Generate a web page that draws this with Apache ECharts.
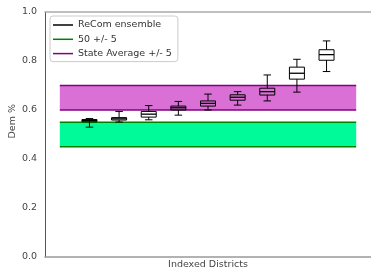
<!DOCTYPE html>
<html>
<head>
<meta charset="utf-8">
<script src="https://cdn.jsdelivr.net/npm/echarts@6/dist/echarts.min.js"></script>
<style>
  html, body { margin: 0; padding: 0; background: #fff; }
  #chart { width: 371px; height: 275px; }
</style>
</head>
<body>
<div id="chart"></div>
<script>
// box positions (indexed districts) and five-number summaries
var positions = [1, 2, 3, 4, 5, 6, 7, 8, 9];
var lows    = [0.530, 0.551, 0.560, 0.579, 0.600, 0.620, 0.637, 0.673, 0.757];
var q1s     = [0.552, 0.559, 0.571, 0.600, 0.616, 0.640, 0.661, 0.726, 0.803];
var medians = [0.557, 0.564, 0.583, 0.609, 0.627, 0.652, 0.675, 0.750, 0.826];
var q3s     = [0.561, 0.569, 0.594, 0.616, 0.637, 0.662, 0.689, 0.775, 0.846];
var highs   = [0.565, 0.594, 0.618, 0.635, 0.665, 0.675, 0.743, 0.807, 0.882];

// horizontal bands
var bandX = [0, 10];
var fiftyBand = [0.45, 0.55];
var stateBand = [0.60, 0.70];

var yTicks = [0, 0.2, 0.4, 0.6, 0.8, 1.0];

var FONT = 'DejaVu Sans';

var boxData = positions.map(function (p, i) {
  return [p, lows[i], q1s[i], medians[i], q3s[i], highs[i]];
});

function edge(y) {
  return [[bandX[0], y], [bandX[1], y]];
}

function bandSeries(name, color, fill, band) {
  var lower = {
    name: name, type: 'line', data: edge(band[0]), symbol: 'none',
    lineStyle: { color: color, width: 1.5 }, itemStyle: { color: color },
    z: 3,
    markArea: {
      silent: true,
      itemStyle: { color: fill, opacity: 1 },
      data: [[{ coord: [bandX[0], band[0]] }, { coord: [bandX[1], band[1]] }]]
    }
  };
  var upper = {
    name: name, type: 'line', data: edge(band[1]), symbol: 'none',
    lineStyle: { color: color, width: 1.5 }, itemStyle: { color: color },
    z: 3
  };
  return [lower, upper];
}

function renderBox(params, api) {
  var x = api.value(0);
  var lo = api.coord([x, api.value(1)]);
  var q1 = api.coord([x, api.value(2)]);
  var md = api.coord([x, api.value(3)]);
  var q3 = api.coord([x, api.value(4)]);
  var hi = api.coord([x, api.value(5)]);
  var cx = lo[0];
  var half = 7.5, cap = 3.75;
  var st = { stroke: '#000', lineWidth: 1, fill: null };
  return {
    type: 'group',
    children: [
      { type: 'rect', shape: { x: cx - half, y: q3[1], width: half * 2, height: q1[1] - q3[1] }, style: st },
      { type: 'line', shape: { x1: cx - half, y1: md[1], x2: cx + half, y2: md[1] }, style: { stroke: '#000', lineWidth: 1.3 } },
      { type: 'line', shape: { x1: cx, y1: q3[1], x2: cx, y2: hi[1] }, style: st },
      { type: 'line', shape: { x1: cx, y1: q1[1], x2: cx, y2: lo[1] }, style: st },
      { type: 'line', shape: { x1: cx - cap, y1: hi[1], x2: cx + cap, y2: hi[1] }, style: st },
      { type: 'line', shape: { x1: cx - cap, y1: lo[1], x2: cx + cap, y2: lo[1] }, style: st }
    ]
  };
}

var chart = echarts.init(document.getElementById('chart'));

var option = {
  animation: false,
  textStyle: { fontFamily: FONT },
  grid: { left: 45, top: 12, width: 330, height: 246 },
  legend: {
    orient: 'vertical',
    left: 50, top: 16,
    padding: [3, 6, 2, 3],
    itemGap: 2.3,
    itemWidth: 20, itemHeight: 1.5,
    icon: 'rect',
    backgroundColor: '#fff',
    borderColor: '#ccc', borderWidth: 1, borderRadius: 3,
    textStyle: { fontFamily: FONT, fontSize: 9.5, color: '#333', lineHeight: 12 },
    data: [
      { name: 'ReCom ensemble', itemStyle: { color: '#000' } },
      { name: '50 +/- 5', itemStyle: { color: '#008000' } },
      { name: 'State Average +/- 5', itemStyle: { color: '#800080' } }
    ]
  },
  graphic: [{
    type: 'text', left: 8, top: 104, rotation: Math.PI / 2,
    style: { text: 'Dem %', fontFamily: FONT, fontSize: 9.5, fill: '#444' }
  }],
  xAxis: [{
    type: 'value', min: -0.5, max: 10.5,
    name: 'Indexed Districts', nameLocation: 'middle', nameGap: 3,
    nameTextStyle: { fontFamily: FONT, fontSize: 9.5, color: '#444' },
    axisLine: { show: true, onZero: false, lineStyle: { color: '#999', width: 1.5 } },
    axisTick: { show: false }, axisLabel: { show: false }, splitLine: { show: false }
  }, {
    type: 'value', min: -0.5, max: 10.5, position: 'top',
    axisLine: { show: true, onZero: false, lineStyle: { color: '#aaa', width: 1.5 } },
    axisTick: { show: false }, axisLabel: { show: false }, splitLine: { show: false }
  }],
  yAxis: {
    type: 'value', min: yTicks[0], max: yTicks[yTicks.length - 1], interval: 0.2,
    axisLine: { show: true, onZero: false, lineStyle: { color: '#555', width: 1 } },
    axisTick: { show: false },
    axisLabel: {
      margin: 8, fontFamily: FONT, fontSize: 9.5, color: '#444',
      formatter: function (v) { return v.toFixed(1); }
    },
    splitLine: { show: false }
  },
  series: [].concat(
    bandSeries('50 +/- 5', '#008000', '#00fa9a', fiftyBand),
    bandSeries('State Average +/- 5', '#800080', '#da70d6', stateBand),
    [{
      name: 'ReCom ensemble', type: 'custom', data: boxData,
      renderItem: renderBox, itemStyle: { color: '#000' }, z: 5,
      encode: { x: 0, y: [1, 2, 3, 4, 5] }
    }]
  )
};

chart.setOption(option);
</script>
</body>
</html>
